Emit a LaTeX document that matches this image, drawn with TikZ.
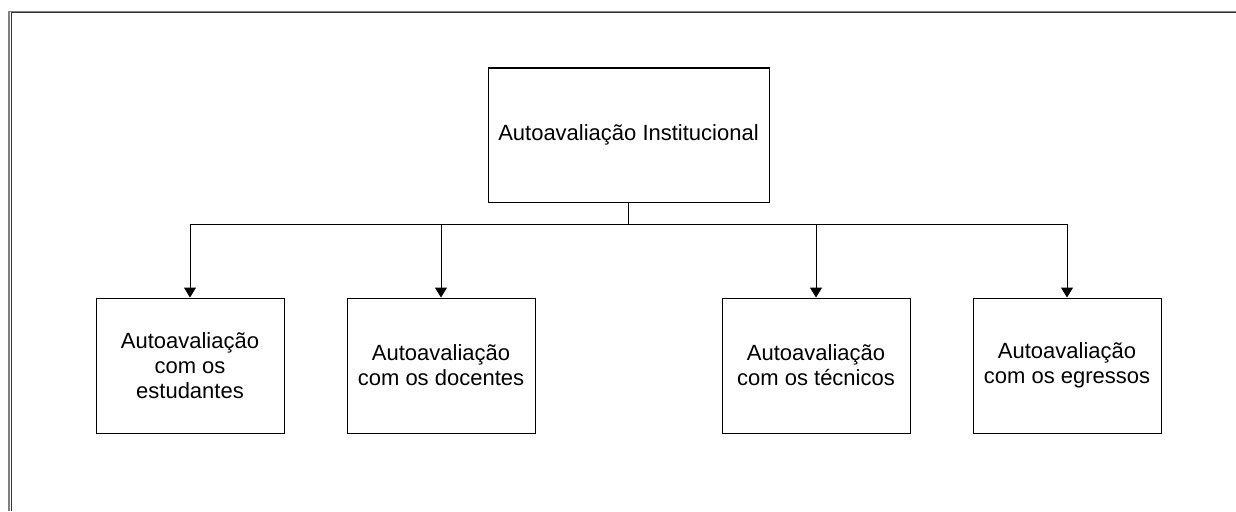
\documentclass[tikz,border=0pt]{standalone}
\usepackage{fontspec}
\setmainfont{Liberation Sans}
\usepackage{tikz}
\usetikzlibrary{arrows.meta, positioning}
\tikzset{
  instbox/.style={rectangle, draw, line width=1pt, minimum width=281pt, minimum height=134pt, align=center, font=\fontsize{22}{25}\selectfont},
  autobox/.style={rectangle, draw, line width=1pt, minimum width=188pt, minimum height=135pt, align=center, font=\fontsize{22}{25}\selectfont},
  arr/.style={-{Triangle[length=10pt, width=12pt]}, line width=1pt},
}

\begin{document}
\begin{tikzpicture}[x=1pt, y=-1pt]
  \useasboundingbox (0,0) rectangle (1236,511);
  % Frame
  \draw[gray, line width=2pt] (9,11) -- (9,511);
  \draw[black!80, line width=1pt] (11.5,11) -- (11.5,511);
  \draw[gray, line width=1pt] (10,11.5) -- (1236,11.5);
  \draw[black!80, line width=1pt] (11,12.5) -- (1236,12.5);

  % Nodes
  \node[instbox] (inst) at (628.5,135) {Autoavalia\c{c}\~ao Institucional};
  \node[autobox] (stud) at (190,365.5) {Autoavalia\c{c}\~ao\\com os\\estudantes};
  \node[autobox, right=62pt of stud] (doc) {Autoavalia\c{c}\~ao\\com os docentes};
  \node[autobox, right=186pt of doc] (tec) {Autoavalia\c{c}\~ao\\com os t\'ecnicos};
  \node[autobox, right=62pt of tec] (egr) {Autoavalia\c{c}\~ao\\com os egressos};
  \coordinate (split) at ([yshift=-22pt]inst.south);

  % Arrows
  \draw[line width=1pt] (inst.south) -- (split);
  \draw[arr] (split) -| (stud.north);
  \draw[arr] (split) -| (doc.north);
  \draw[arr] (split) -| (tec.north);
  \draw[arr] (split) -| (egr.north);
\end{tikzpicture}
\end{document}
